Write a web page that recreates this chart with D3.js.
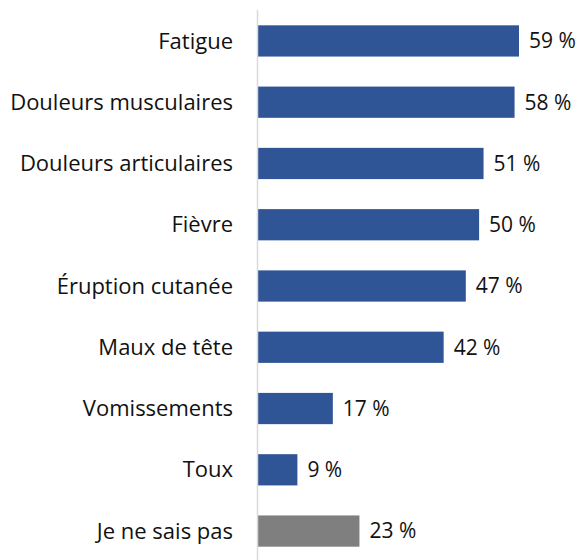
<!DOCTYPE html>
<html>
<head>
<meta charset="utf-8">
<script src="https://cdn.jsdelivr.net/npm/d3@7"></script>
<style>
  body { margin: 0; background: #fff; }
  svg { display: block; }
</style>
</head>
<body>
<div id="chart"></div>
<script>
// symptoms and share of respondents (%)
var categories = ["Fatigue", "Douleurs musculaires", "Douleurs articulaires", "Fièvre",
  "Éruption cutanée", "Maux de tête", "Vomissements", "Toux", "Je ne sais pas"];
var values = [59, 58, 51, 50, 47, 42, 17, 9, 23];
var valueLabels = ["59 %", "58 %", "51 %", "50 %", "47 %", "42 %", "17 %", "9 %", "23 %"];

var width = 579, height = 560;
var axisX = 257.5;
var blue = "#2F5597", grey = "#7F7F7F";
var font = "'Open Sans', sans-serif";

var svg = d3.select("#chart")
    .append("svg")
    .attr("width", width)
    .attr("height", height);

var xScale = d3.scaleLinear()
    .domain([0, 59])
    .range([axisX, 519]);

var yScale = d3.scaleBand()
    .domain(categories)
    .range([10, 562])
    .paddingInner(0.49)
    .paddingOuter(0.25);

svg.selectAll("rect.bar")
    .data(values)
    .join("rect")
    .attr("class", "bar")
    .attr("x", xScale(0))
    .attr("y", function(d, i) { return yScale(categories[i]); })
    .attr("width", function(d) { return xScale(d) - xScale(0); })
    .attr("height", yScale.bandwidth())
    .attr("fill", function(d, i) { return categories[i] === "Je ne sais pas" ? grey : blue; });

// vertical category axis line
svg.append("line")
    .attr("x1", axisX).attr("x2", axisX)
    .attr("y1", 10).attr("y2", height)
    .attr("stroke", "#D9D9D9")
    .attr("stroke-width", 1.5);

svg.selectAll("text.cat")
    .data(categories)
    .join("text")
    .attr("class", "cat")
    .attr("x", 233)
    .attr("y", function(d) { return yScale(d) + yScale.bandwidth() / 2; })
    .attr("dy", "0.35em")
    .attr("text-anchor", "end")
    .attr("font-family", font)
    .attr("font-size", 22)
    .attr("fill", "#111")
    .text(function(d) { return d; });

svg.selectAll("text.val")
    .data(values)
    .join("text")
    .attr("class", "val")
    .attr("x", function(d) { return xScale(d) + 10; })
    .attr("y", function(d, i) { return yScale(categories[i]) + yScale.bandwidth() / 2; })
    .attr("dy", "0.35em")
    .attr("font-family", font)
    .attr("font-size", 21)
    .attr("fill", "#111")
    .text(function(d, i) { return valueLabels[i]; });
</script>
</body>
</html>
